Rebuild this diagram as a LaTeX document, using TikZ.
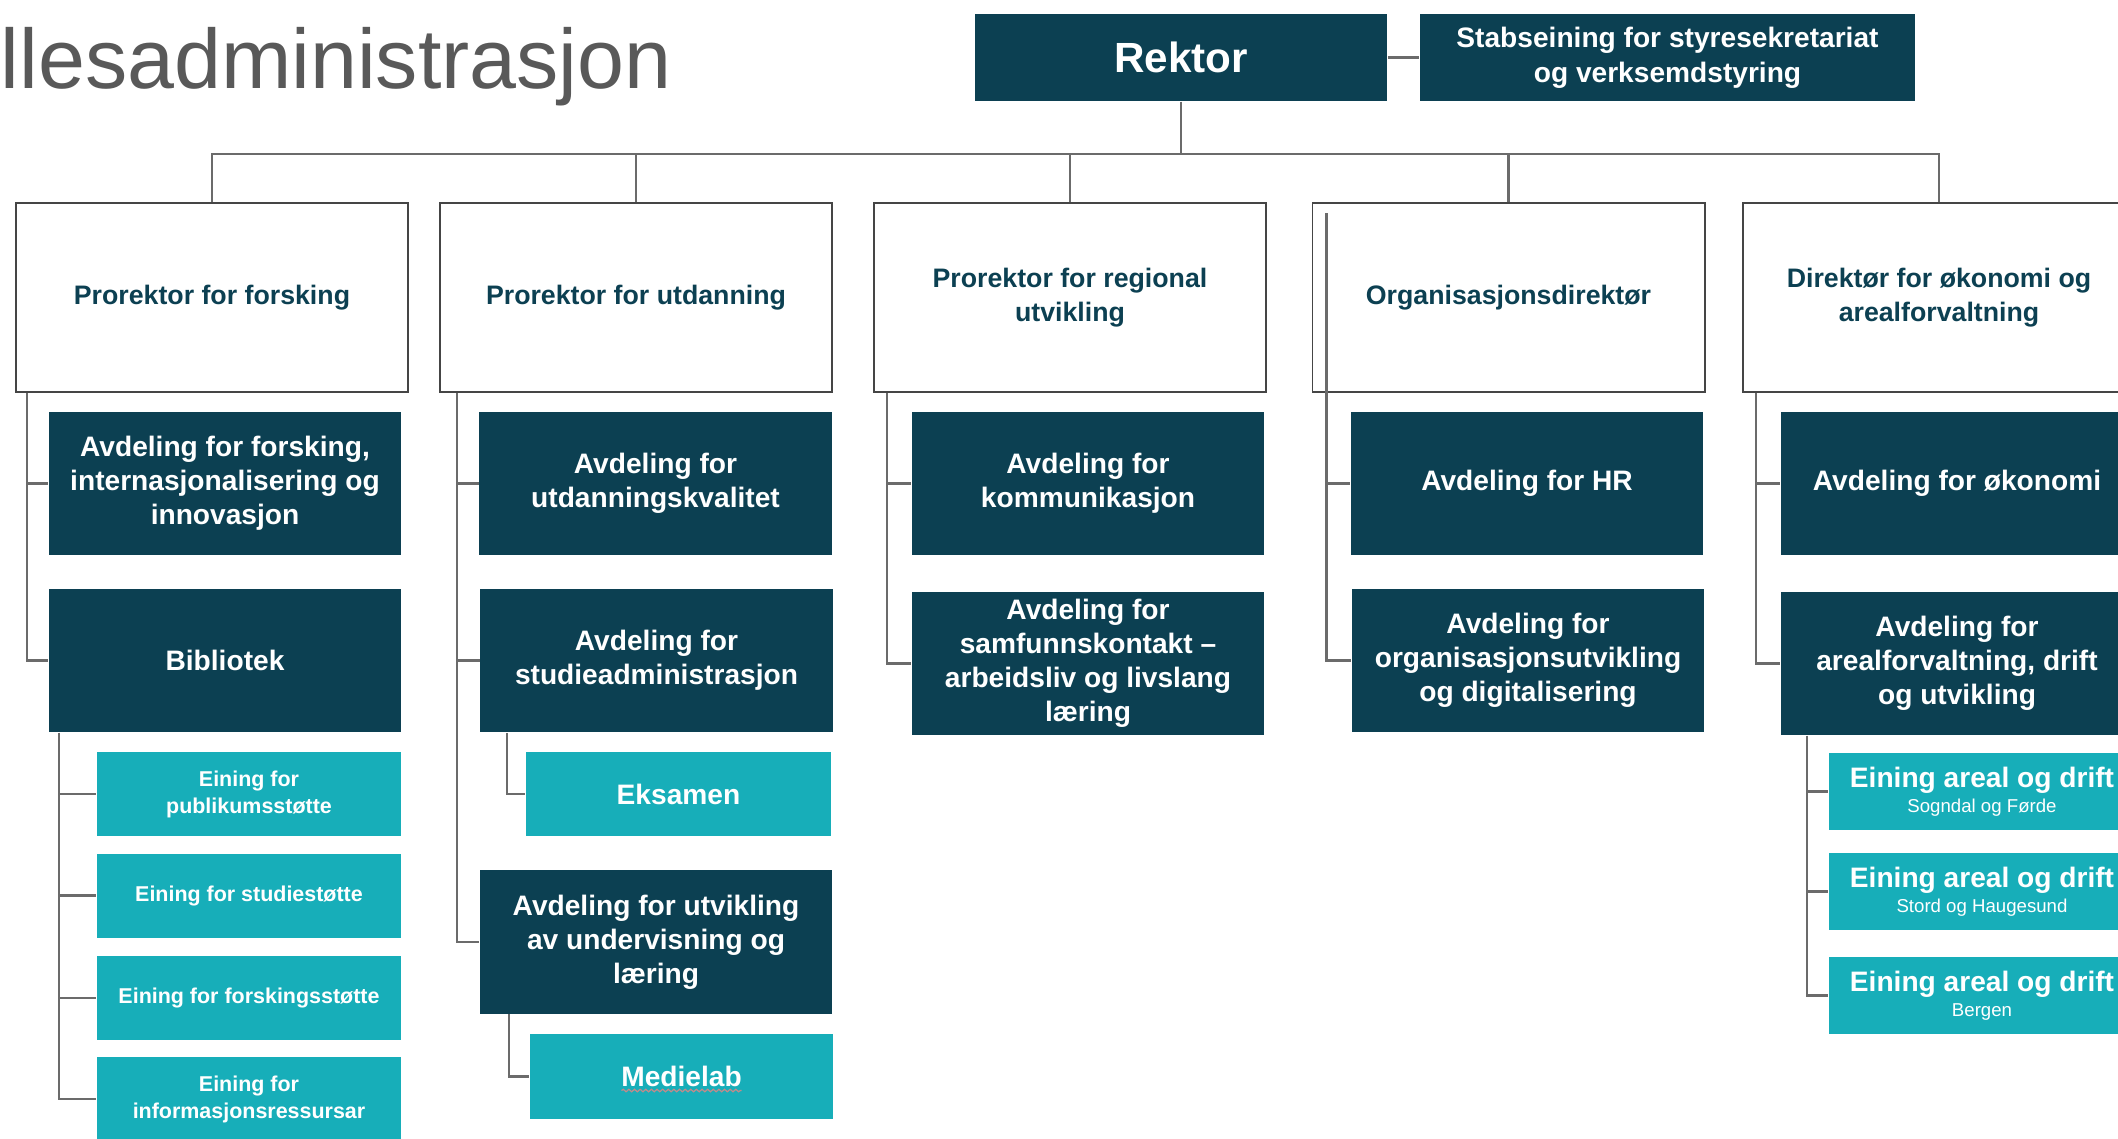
\documentclass[tikz,border=0pt]{standalone}
\usepackage{fontspec}
\setmainfont{Liberation Sans}
\usepackage{tikz}
\usetikzlibrary{positioning, calc}
\usetikzlibrary{decorations.pathmorphing}

\definecolor{hvldark}{HTML}{0C4052}
\definecolor{hvlteal}{HTML}{17AEB9}
\definecolor{linegray}{HTML}{6B6B6B}
\definecolor{boxgray}{HTML}{454545}
\definecolor{titlegray}{HTML}{595959}

\tikzset{
  leader/.style={draw=boxgray, line width=0.5pt, fill=white, text=hvldark, minimum width=3.92cm, minimum height=1.89cm, inner sep=0pt, align=center, font=\fontsize{7.6}{9.6}\selectfont\bfseries},
  avd/.style={fill=hvldark, text=white, minimum width=3.52cm, minimum height=1.43cm, inner sep=0pt, align=center, font=\fontsize{8}{9.7}\selectfont\bfseries},
  eining/.style={fill=hvlteal, text=white, minimum width=3.04cm, minimum height=0.84cm, inner sep=0pt, align=center, font=\fontsize{6.1}{7.7}\selectfont\bfseries},
  link/.style={draw=linegray, line width=0.6pt}
}

\begin{document}
\begin{tikzpicture}[x=0.01cm, y=-0.01cm]
                \useasboundingbox (0,0) rectangle (2118,1138);
                \clip (0,0) rectangle (2118,1138);
                \node[anchor=base west, inner sep=0pt, text=titlegray, font=\fontsize{24}{28}\selectfont] (title) at (0,88) {llesadministrasjon};

                \node[avd, minimum width=4.12cm, minimum height=0.87cm, font=\fontsize{12}{14}\selectfont\bfseries] (rektor) at (1181,57.5) {Rektor};
                \node[avd, minimum width=4.95cm, minimum height=0.87cm, font=\fontsize{8}{10}\selectfont\bfseries] (stab) at (1667.5,57.5) {Stabseining for styresekretariat\\ og verksemdstyring};

                \node[leader] (forsk) at (212,297.5) {Prorektor for forsking};
                \node[leader] (utd) at (636,297.5) {Prorektor for utdanning};
                \node[leader] (reg) at (1070,297.5) {Prorektor for regional\\ utvikling};
                \node[leader] (org) at (1508.5,297.5) {Organisasjonsdirektør};
                \node[leader] (oko) at (1939,297.5) {Direktør for økonomi og\\ arealforvaltning};

                \node[avd] (fia) at (225,483.5) {Avdeling for forsking,\\ internasjonalisering og\\ innovasjon};
                \node[avd] (bib) at (225,660.5) {Bibliotek};
                \node[avd] (ukv) at (655.5,483.5) {Avdeling for\\ utdanningskvalitet};
                \node[avd] (sadm) at (656.5,660.5) {Avdeling for\\ studieadministrasjon};
                \node[avd] (uul) at (656,942) {Avdeling for utvikling\\ av undervisning og\\ læring};
                \node[avd] (kom) at (1088,483.5) {Avdeling for\\ kommunikasjon};
                \node[avd] (sam) at (1088,663.5) {Avdeling for\\ samfunnskontakt –\\ arbeidsliv og livslang\\ læring};
                \node[avd] (hr) at (1527,483.5) {Avdeling for HR};
                \node[avd] (ods) at (1528,660.5) {Avdeling for\\ organisasjonsutvikling\\ og digitalisering};
                \node[avd] (okon) at (1957,483.5) {Avdeling for økonomi};
                \node[avd] (adu) at (1957,663.5) {Avdeling for\\ arealforvaltning, drift\\ og utvikling};

                \node[eining] (pub) at (249,794) {Eining for\\ publikumsstøtte};
                \node[eining] (stu) at (249,895.5) {Eining for studiestøtte};
                \node[eining] (fst) at (249,998) {Eining for forskingsstøtte};
                \node[eining] (inf) at (249,1099) {Eining for\\ informasjonsressursar};
                \node[eining, minimum width=3.05cm, font=\fontsize{8}{9.6}\selectfont\bfseries] (eks) at (678.5,794) {Eksamen};
                \node[eining, minimum width=3.03cm, minimum height=0.85cm, font=\fontsize{8}{9.6}\selectfont\bfseries] (mlab) at (681.5,1076.5) {Medielab};
                \node[eining, minimum width=3.06cm, minimum height=0.77cm, font=\fontsize{8}{9.6}\selectfont\bfseries] (sf) at (1982,791.5) {Eining areal og drift\\[-2.5pt] {\fontsize{5.3}{6}\selectfont\mdseries Sogndal og Førde}};
                \node[eining, minimum width=3.06cm, minimum height=0.77cm, font=\fontsize{8}{9.6}\selectfont\bfseries] (sh) at (1982,891.5) {Eining areal og drift\\[-2.5pt] {\fontsize{5.3}{6}\selectfont\mdseries Stord og Haugesund}};
                \node[eining, minimum width=3.06cm, minimum height=0.77cm, font=\fontsize{8}{9.6}\selectfont\bfseries] (bg) at (1982,995.5) {Eining areal og drift\\[-2.5pt] {\fontsize{5.3}{6}\selectfont\mdseries Bergen}};
                \draw[decorate, decoration={snake, amplitude=0.35pt, segment length=1.6pt}, draw=gray!70!red!70, line width=0.35pt] ($(mlab.center)+(-60,14)$) -- ($(mlab.center)+(60,14)$);

                \draw[link] (rektor.east) -- (stab.west);
                \coordinate (bus) at ($(rektor.south)+(0,52)$);
                \draw[link] (rektor.south) -- (bus);
                \draw[link] (forsk.north) |- (bus) -| (oko.north);
                \foreach \p in {utd,reg,org} \draw[link] (\p.north) -- (\p.north |- bus);

                \foreach \a in {fia,bib} \draw[link] ($(forsk.south west)+(12,0)$) |- (\a.west);
                \foreach \e in {pub,stu,fst,inf} \draw[link] ($(bib.south west)+(11,0)$) |- (\e.west);
                \foreach \a in {ukv,sadm,uul} \draw[link] ($(utd.south west)+(18,0)$) |- (\a.west);
                \draw[link] ($(sadm.south west)+(27,0)$) |- (eks.west);
                \draw[link] ($(uul.south west)+(30,0)$) |- (mlab.west);
                \foreach \a in {kom,sam} \draw[link] ($(reg.south west)+(14,0)$) |- (\a.west);
                \foreach \a in {hr,ods} \draw[link] ($(org.north west)+(15,11)$) |- (\a.west);
                \foreach \a in {okon,adu} \draw[link] ($(oko.south west)+(14,0)$) |- (\a.west);
                \foreach \e in {sf,sh,bg} \draw[link] ($(adu.south west)+(27,0)$) |- (\e.west);
            \end{tikzpicture}
\end{document}
